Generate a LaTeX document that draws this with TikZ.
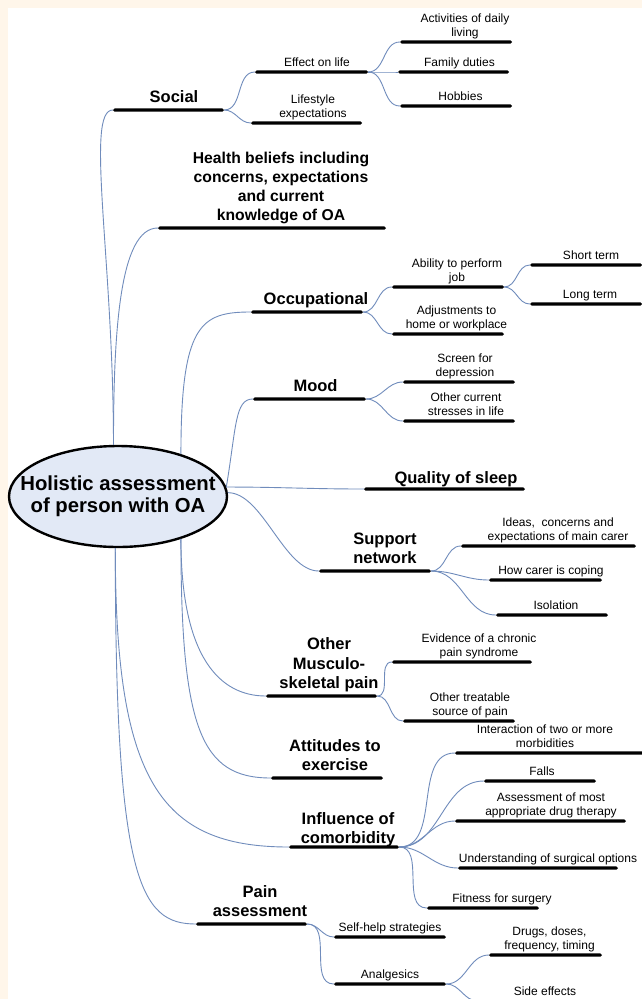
\documentclass[tikz,border=0pt]{standalone}
\usepackage{fontspec}
\setmainfont{Liberation Sans}
\usetikzlibrary{positioning,shapes.geometric}

\definecolor{cream}{RGB}{255,246,234}
\definecolor{linkblue}{RGB}{112,140,188}
\definecolor{rootfill}{RGB}{226,233,246}

\tikzset{
  bar/.style={fill=black, inner sep=0pt, minimum height=3.2pt, rounded corners=1.6pt},
  big/.style={font=\fontsize{16.5}{19.5}\selectfont\bfseries, align=center, inner sep=0pt, text depth=3.6pt},
  small/.style={font=\fontsize{12}{14}\selectfont, align=center, inner sep=0pt, text depth=2.6pt},
  root/.style={ellipse, draw=black, line width=2.4pt, fill=rootfill, minimum width=218pt, minimum height=101pt, inner sep=0pt},
  rootlabel/.style={font=\fontsize{20.3}{22}\selectfont\bfseries, align=center, inner sep=0pt},
  link/.style={draw=linkblue, line width=0.9pt}
}

\begin{document}
\begin{tikzpicture}[x=1pt, y=-1pt]
\useasboundingbox (0,0) rectangle (642,999);
\clip (0,0) rectangle (642,999);
\fill[white] (0,0) rectangle (642,999);
\fill[cream] (0,0) rectangle (642,7.5);
\fill[cream] (0,0) rectangle (7.5,999);

% centre
\node[root] (root) at (118,496.5) {};
\node[rootlabel] (root-t) at (root) {Holistic assessment\\of person with OA};

% first ring
\node[bar, minimum width=111pt] (soc) at (168.5,110) {};
\node[big, above=1.5pt of soc, xshift=5.5pt] (soc-t) {Social};
\node[bar, minimum width=228pt] (hb) at (272,228) {};
\node[big, font=\fontsize{15.7}{19}\selectfont\bfseries, above=1.5pt of hb, xshift=9pt] (hb-t) {Health beliefs including\\concerns, expectations\\and current\\knowledge of OA};
\node[bar, minimum width=112pt] (occ) at (307,312) {};
\node[big, above=1.5pt of occ, xshift=9pt] (occ-t) {Occupational};
\node[bar, minimum width=113pt] (mood) at (309.5,399) {};
\node[big, above=1.5pt of mood, xshift=6pt] (mood-t) {Mood};
\node[bar, minimum width=161pt] (sleep) at (444.5,489) {};
\node[big, above=0pt of sleep, xshift=11.5pt] (sleep-t) {Quality of sleep};
\node[bar, minimum width=112pt] (sup) at (375,571) {};
\node[big, above=1.5pt of sup, xshift=10pt] (sup-t) {Support\\network};
\node[bar, minimum width=111pt] (oth) at (321.5,696) {};
\node[big, above=1.5pt of oth, xshift=7.5pt] (oth-t) {Other\\Musculo-\\skeletal pain};
\node[bar, minimum width=112pt] (att) at (327,778) {};
\node[big, above=1.5pt of att, xshift=8pt] (att-t) {Attitudes to\\exercise};
\node[bar, minimum width=110pt] (inf) at (344,847) {};
\node[big, above=-2.5pt of inf, xshift=4pt] (inf-t) {Influence of\\comorbidity};
\node[bar, minimum width=111pt] (pain) at (251.5,924) {};
\node[big, above=1.5pt of pain, xshift=8.5pt] (pain-t) {Pain\\assessment};

% second ring
\node[bar, minimum width=113pt] (eff) at (311.5,72) {};
\node[small, above=1.3pt of eff, xshift=5.5pt] (eff-t) {Effect on life};
\node[bar, minimum width=111pt] (life) at (306.5,123) {};
\node[small, above=1.3pt of life, xshift=6.5pt] (life-t) {Lifestyle\\expectations};
\node[bar, minimum width=112pt] (act) at (456,42) {};
\node[small, above=1.3pt of act, xshift=9pt] (act-t) {Activities of daily\\living};
\node[bar, minimum width=111pt] (fam) at (453.5,72) {};
\node[small, above=1.3pt of fam, xshift=6pt] (fam-t) {Family duties};
\node[bar, minimum width=112pt] (hob) at (456,106) {};
\node[small, above=1.3pt of hob, xshift=4.5pt] (hob-t) {Hobbies};
\node[bar, minimum width=112pt] (job) at (448,287) {};
\node[small, above=1.3pt of job, xshift=9pt] (job-t) {Ability to perform\\job};
\node[bar, minimum width=112pt] (adj) at (448,334) {};
\node[small, above=1.3pt of adj, xshift=8.5pt] (adj-t) {Adjustments to\\home or workplace};
\node[bar, minimum width=112pt] (shortt) at (586,265) {};
\node[small, above=1.3pt of shortt, xshift=5pt] (shortt-t) {Short term};
\node[bar, minimum width=112pt] (longt) at (586,304) {};
\node[small, above=1.3pt of longt, xshift=4pt] (longt-t) {Long term};
\node[bar, minimum width=112pt] (scr) at (459,382) {};
\node[small, above=1.3pt of scr, xshift=6pt] (scr-t) {Screen for\\depression};
\node[bar, minimum width=112pt] (str) at (459,421) {};
\node[small, above=1.3pt of str, xshift=7pt] (str-t) {Other current\\stresses in life};
\node[bar, minimum width=175pt] (ideas) at (548.5,546) {};
\node[small, above=1.3pt of ideas, xshift=9.5pt] (ideas-t) {Ideas,\ \ concerns and\\expectations of main carer};
\node[bar, minimum width=113pt] (cope) at (545.5,580) {};
\node[small, above=1.3pt of cope, xshift=5.5pt] (cope-t) {How carer is coping};
\node[bar, minimum width=112pt] (iso) at (552,615) {};
\node[small, above=1.3pt of iso, xshift=4pt] (iso-t) {Isolation};
\node[bar, minimum width=140pt] (evid) at (462,662) {};
\node[small, above=1.3pt of evid, xshift=17pt] (evid-t) {Evidence of a chronic\\pain syndrome};
\node[bar, minimum width=112pt] (treat) at (459,721) {};
\node[small, above=1.3pt of treat, xshift=11pt] (treat-t) {Other treatable\\source of pain};
\node[bar, minimum width=190pt] (inter) at (550,753) {};
\node[small, above=1.3pt of inter, xshift=-5pt] (inter-t) {Interaction of two or more\\morbidities};
\node[bar, minimum width=112pt] (falls) at (540,781) {};
\node[small, above=1.3pt of falls, xshift=2pt] (falls-t) {Falls};
\node[bar, minimum width=171pt] (drug) at (540.5,821) {};
\node[small, above=1.3pt of drug, xshift=10.5pt] (drug-t) {Assessment of most\\appropriate drug therapy};
\node[bar, minimum width=160pt] (surg) at (538,868) {};
\node[small, above=1.3pt of surg, xshift=10pt] (surg-t) {Understanding of surgical options};
\node[bar, minimum width=112pt] (fit) at (483,908) {};
\node[small, above=1.3pt of fit, xshift=19pt] (fit-t) {Fitness for surgery};
\node[bar, minimum width=112pt] (self) at (390,937) {};
\node[small, above=1.3pt of self] (self-t) {Self-help strategies};
\node[bar, minimum width=112pt] (analg) at (390,984) {};
\node[small, above=1.3pt of analg] (analg-t) {Analgesics};
\node[bar, minimum width=113pt] (drugs) at (545.5,955) {};
\node[small, above=1.3pt of drugs, xshift=4pt] (drugs-t) {Drugs, doses,\\frequency, timing};
\node[bar, minimum width=112pt] (side) at (534,1001) {};
\node[small, above=1.3pt of side, xshift=11pt] (side-t) {Side effects};

% centre to first ring
\draw[link] (root.95) .. controls +(0,-185) and +(-28,0) .. (soc.west);
\draw[link] (root.95) .. controls +(0,-115) and +(-38,0) .. (hb.west);
\draw[link] (root.34) .. controls +(0,-130) and +(-50,0) .. (occ.west);
\draw[link] (root.5) .. controls +(10,-60) and +(-18,0) .. (mood.west);
\draw[link] (root.5) to[out=0,in=180] (sleep.west);
\draw[link] (root.2) .. controls +(35,0) and +(-35,0) .. (sup.west);
\draw[link] (root.-34) .. controls +(0,120) and +(-45,0) .. (oth.west);
\draw[link] (root.-34) .. controls +(0,190) and +(-70,0) .. (att.west);
\draw[link] (root.-93) .. controls +(0,232) and +(-129,0) .. (inf.west);
\draw[link] (root.-93) .. controls +(0,332) and +(-56,0) .. (pain.west);

% first ring to second ring
\draw[link] (soc.east) to[out=0,in=180] (eff.west);
\draw[link] (soc.east) to[out=0,in=180] (life.west);
\draw[link] (eff.east) to[out=0,in=180] (act.west);
\draw[link] (eff.east) to[out=0,in=180] (fam.west);
\draw[link] (eff.east) to[out=0,in=180] (hob.west);
\draw[link] (occ.east) to[out=0,in=180] (job.west);
\draw[link] (occ.east) to[out=0,in=180] (adj.west);
\draw[link] (job.east) to[out=0,in=180] (shortt.west);
\draw[link] (job.east) to[out=0,in=180] (longt.west);
\draw[link] (mood.east) to[out=0,in=180] (scr.west);
\draw[link] (mood.east) to[out=0,in=180] (str.west);
\draw[link] (sup.east) to[out=0,in=180] (ideas.west);
\draw[link] (sup.east) to[out=0,in=180] (cope.west);
\draw[link] (sup.east) to[out=0,in=180] (iso.west);
\draw[link] (oth.east) to[out=0,in=180] (evid.west);
\draw[link] (oth.east) to[out=0,in=180] (treat.west);
\draw[link] (inf.east) to[out=0,in=180] (inter.west);
\draw[link] (inf.east) to[out=0,in=180] (falls.west);
\draw[link] (inf.east) to[out=0,in=180] (drug.west);
\draw[link] (inf.east) to[out=0,in=180] (surg.west);
\draw[link] (inf.east) to[out=0,in=180] (fit.west);
\draw[link] (pain.east) to[out=0,in=180] (self.west);
\draw[link] (pain.east) to[out=0,in=180] (analg.west);
\draw[link] (analg.east) to[out=0,in=180] (drugs.west);
\draw[link] (analg.east) to[out=0,in=180] (side.west);
\end{tikzpicture}
\end{document}
